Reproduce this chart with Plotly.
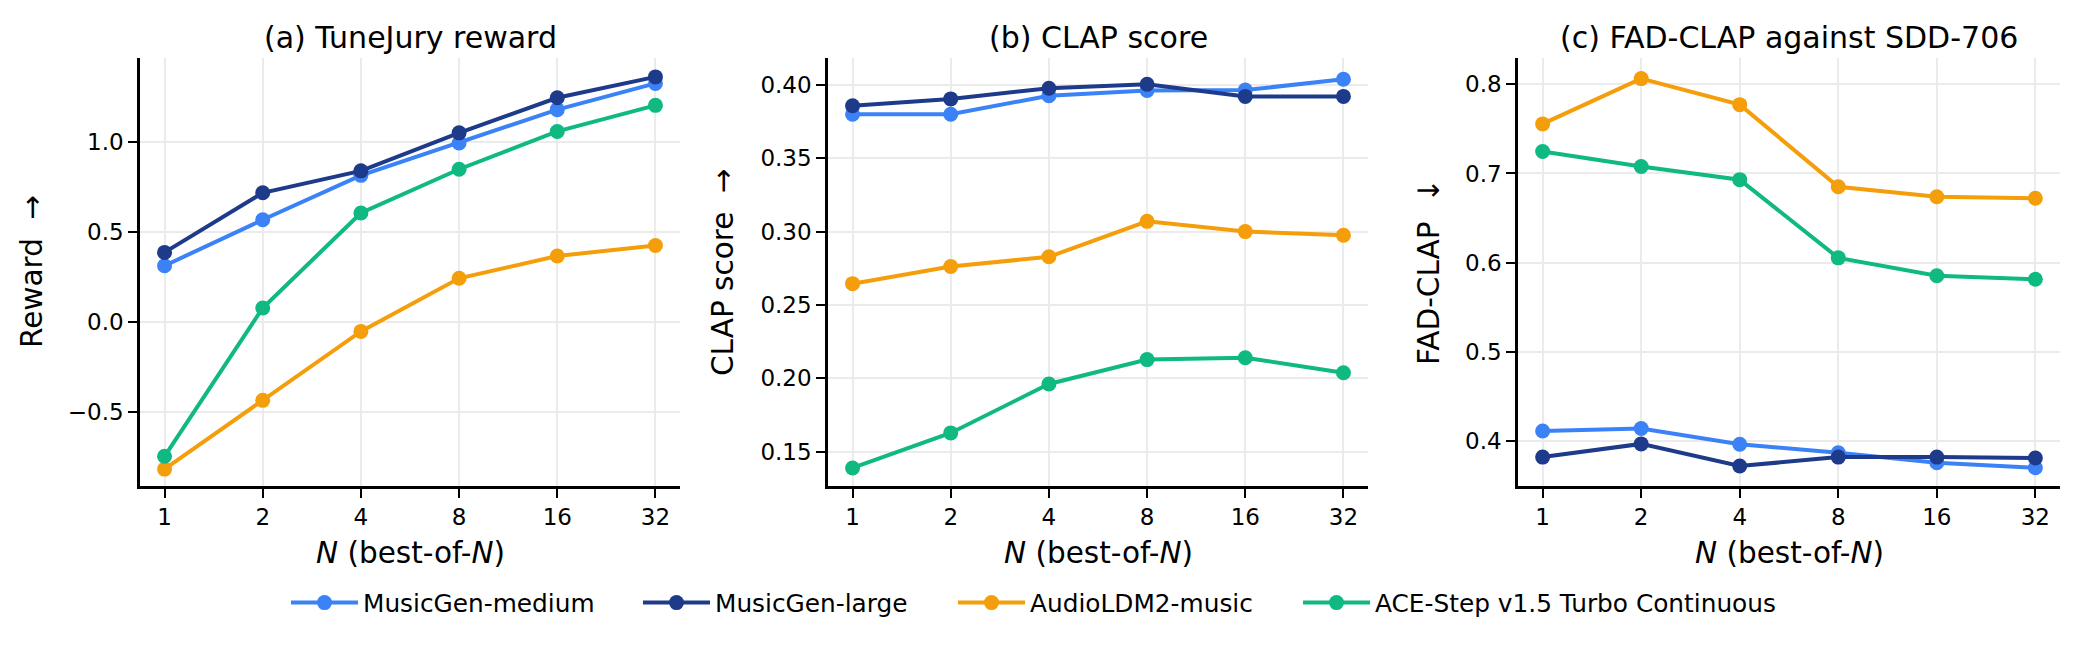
import math
import plotly.graph_objects as go

W, H = 2076, 647

N_VALUES = [1, 2, 4, 8, 16, 32]
N_LABELS = ["1", "2", "4", "8", "16", "32"]

SERIES = ["MusicGen-medium", "MusicGen-large", "AudioLDM2-music", "ACE-Step v1.5 Turbo Continuous"]
COLORS = ["#3b82f6", "#1e3a8a", "#f59e0b", "#10b981"]
LEGEND_WIDTHS = [270, 233, 263, 404]

reward_medium = [0.313, 0.568, 0.815, 0.995, 1.18, 1.326]
reward_large = [0.387, 0.718, 0.840, 1.051, 1.246, 1.362]
reward_audioldm = [-0.817, -0.435, -0.052, 0.243, 0.367, 0.425]
reward_ace = [-0.746, 0.078, 0.606, 0.849, 1.059, 1.204]

clap_medium = [0.380, 0.380, 0.3927, 0.3963, 0.3965, 0.4039]
clap_large = [0.3858, 0.3905, 0.3978, 0.4005, 0.3922, 0.3922]
clap_audioldm = [0.2645, 0.2762, 0.2828, 0.307, 0.300, 0.2975]
clap_ace = [0.1388, 0.1627, 0.1961, 0.2127, 0.2140, 0.2037]

fad_medium = [0.4112, 0.414, 0.3964, 0.3868, 0.3756, 0.370]
fad_large = [0.382, 0.3968, 0.372, 0.382, 0.382, 0.381]
fad_audioldm = [0.7556, 0.8064, 0.7772, 0.6851, 0.6739, 0.6723]
fad_ace = [0.7247, 0.7079, 0.6931, 0.6054, 0.5854, 0.5814]

PANEL_TITLES = ["(a) TuneJury reward", "(b) CLAP score", "(c) FAD-CLAP against SDD-706"]
Y_TITLES = ["Reward  →", "CLAP score  →", "FAD-CLAP  ↓"]
X_TITLE = "<i>N</i> (best-of-<i>N</i>)"

Y_TICKS = [[-0.5, 0.0, 0.5, 1.0], [0.15, 0.20, 0.25, 0.30, 0.35, 0.40], [0.4, 0.5, 0.6, 0.7, 0.8]]
Y_TICKTEXT = [["−0.5", "0.0", "0.5", "1.0"],
              ["0.15", "0.20", "0.25", "0.30", "0.35", "0.40"],
              ["0.4", "0.5", "0.6", "0.7", "0.8"]]
Y_RANGES = [[-0.911, 1.467], [0.1265, 0.4184], [0.3496, 0.8295]]

panels = [
    [reward_medium, reward_large, reward_audioldm, reward_ace],
    [clap_medium, clap_large, clap_audioldm, clap_ace],
    [fad_medium, fad_large, fad_audioldm, fad_ace],
]

# layout geometry (pixels)
AX_X = [(140, 680), (828, 1368), (1518, 2060)]
AX_TOP, AX_BOT = 58, 486
YLABEL_X = [32, 723, 1429]
FONT = "DejaVu Sans"

fig = go.Figure()

for p, series_vals in enumerate(panels):
    xa = "x" if p == 0 else f"x{p+1}"
    ya = "y" if p == 0 else f"y{p+1}"
    for s, vals in enumerate(series_vals):
        fig.add_trace(go.Scatter(
            x=N_VALUES, y=vals, mode="lines+markers", name=SERIES[s],
            line=dict(color=COLORS[s], width=4),
            marker=dict(color=COLORS[s], size=15),
            xaxis=xa, yaxis=ya, showlegend=(p == 0), legendgroup=SERIES[s],
            legendwidth=LEGEND_WIDTHS[s],
        ))

pad = 0.25 * math.log10(2)
xr = [math.log10(N_VALUES[0]) - pad, math.log10(N_VALUES[-1]) + pad]

axis_common = dict(
    showline=True, linecolor="black", linewidth=2.5, mirror=False,
    ticks="outside", ticklen=9, tickwidth=2, tickcolor="black",
    showgrid=True, gridcolor="#ebebeb", gridwidth=1.5, zeroline=False,
    tickfont=dict(family=FONT, size=23, color="black"),
)

ydom = [(H - AX_BOT) / H, (H - AX_TOP) / H]
for p in range(3):
    sx = "" if p == 0 else str(p + 1)
    fig.update_layout(**{
        f"xaxis{sx}": dict(axis_common, type="log", range=xr, tickvals=N_VALUES, ticktext=N_LABELS,
                           domain=[AX_X[p][0] / W, AX_X[p][1] / W], anchor=f"y{sx}"),
        f"yaxis{sx}": dict(axis_common, range=Y_RANGES[p], tickvals=Y_TICKS[p], ticktext=Y_TICKTEXT[p],
                           domain=ydom, anchor=f"x{sx}"),
    })

annotations = []
for p in range(3):
    cx = (AX_X[p][0] + AX_X[p][1]) / 2 / W
    annotations.append(dict(text=PANEL_TITLES[p], x=cx, y=(H - 37) / H, xref="paper", yref="paper",
                            xanchor="center", yanchor="middle", showarrow=False,
                            font=dict(family=FONT, size=30, color="black")))
    annotations.append(dict(text=X_TITLE, x=cx, y=(H - 553) / H, xref="paper", yref="paper",
                            xanchor="center", yanchor="middle", showarrow=False,
                            font=dict(family=FONT, size=29.5, color="black")))
    annotations.append(dict(text=Y_TITLES[p], x=YLABEL_X[p] / W, y=(H - 272) / H, xref="paper", yref="paper",
                            xanchor="center", yanchor="middle", showarrow=False, textangle=-90,
                            font=dict(family=FONT, size=29.5, color="black")))

fig.update_layout(
    width=W, height=H, margin=dict(l=0, r=0, t=0, b=0),
    paper_bgcolor="white", plot_bgcolor="white",
    font=dict(family=FONT, color="black"),
    annotations=annotations,
    legend=dict(orientation="h", x=286 / W, y=(H - 603) / H, xanchor="left", yanchor="middle",
                font=dict(family=FONT, size=24.8, color="black"), itemwidth=67,
                bgcolor="rgba(0,0,0,0)"),
)

fig.write_html("out.html")
